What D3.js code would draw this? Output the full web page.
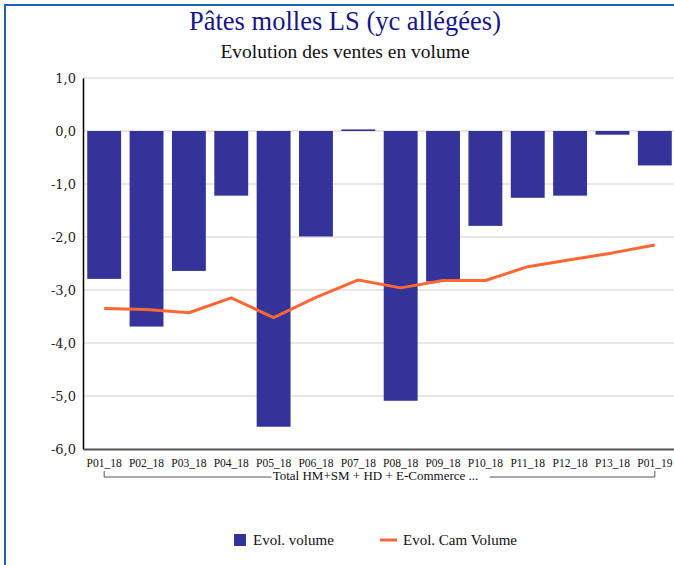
<!DOCTYPE html>
<html>
<head>
<meta charset="utf-8">
<script src="https://cdn.jsdelivr.net/npm/d3@7"></script>
<style>
  body { margin: 0; background: #fff; }
  svg { display: block; }
  .serif { font-family: "Liberation Serif", "Times New Roman", serif; }
  .slab { font-family: "DejaVu Serif", serif; }
</style>
</head>
<body>
<div id="chart"></div>
<script>
// data
var periods = ["P01_18", "P02_18", "P03_18", "P04_18", "P05_18", "P06_18", "P07_18",
               "P08_18", "P09_18", "P10_18", "P11_18", "P12_18", "P13_18", "P01_19"];
var evolVolume = [-2.79, -3.69, -2.64, -1.22, -5.58, -1.99, 0.03,
                  -5.09, -2.84, -1.79, -1.26, -1.22, -0.07, -0.65];
var evolCamVolume = [-3.35, -3.37, -3.43, -3.15, -3.52, -3.14, -2.81,
                     -2.96, -2.82, -2.82, -2.56, -2.43, -2.30, -2.15];
var yTicks = [1, 0, -1, -2, -3, -4, -5, -6];
var groupLabel = "Total HM+SM + HD + E-Commerce ...";
var seriesNames = ["Evol. volume", "Evol. Cam Volume"];

var svgWidth = 674;
var svgHeight = 565;

var margin = { top: 78, right: -2, bottom: 116, left: 83 };
var width = svgWidth - margin.left - margin.right;
var height = svgHeight - margin.top - margin.bottom;

var barColor = "#333399";
var lineColor = "#FF6633";

var svg = d3.select("#chart")
    .append("svg")
    .attr("width", svgWidth)
    .attr("height", svgHeight);

// frame
svg.append("path")
    .attr("d", "M5,565 V5 H674")
    .attr("fill", "none")
    .attr("stroke", "#1F63B5")
    .attr("stroke-width", 2);

// titles
svg.append("text")
    .attr("class", "serif")
    .attr("x", 345)
    .attr("y", 30)
    .attr("text-anchor", "middle")
    .style("font-size", "26.5px")
    .attr("fill", "#16168A")
    .text("Pâtes molles LS (yc allégées)");

svg.append("text")
    .attr("class", "serif")
    .attr("x", 345)
    .attr("y", 58)
    .attr("text-anchor", "middle")
    .style("font-size", "19.5px")
    .attr("fill", "#111")
    .text("Evolution des ventes en volume");

var chartGroup = svg.append("g")
    .attr("transform", `translate(${margin.left}, ${margin.top})`);

// scales
var xBandScale = d3.scaleBand()
    .domain(periods)
    .range([0, width])
    .paddingInner(0.2)
    .paddingOuter(0.1);

var yLinearScale = d3.scaleLinear()
    .domain([-6, 1])
    .range([height, 0]);

// gridlines
chartGroup.append("g")
    .selectAll("line")
    .data(yTicks.filter(d => d > -6))
    .enter()
    .append("line")
    .attr("x1", 0)
    .attr("x2", width)
    .attr("y1", d => yLinearScale(d))
    .attr("y2", d => yLinearScale(d))
    .attr("stroke", "#CFCFCF")
    .attr("stroke-width", 1);

// bars
chartGroup.selectAll(".bar")
    .data(evolVolume)
    .enter()
    .append("rect")
    .attr("class", "bar")
    .attr("x", (d, i) => xBandScale(periods[i]))
    .attr("width", xBandScale.bandwidth())
    .attr("y", d => yLinearScale(Math.max(0, d)))
    .attr("height", d => Math.max(1.5, Math.abs(yLinearScale(d) - yLinearScale(0))))
    .attr("fill", barColor);

// line
var line = d3.line()
    .x((d, i) => xBandScale(periods[i]) + xBandScale.bandwidth() / 2)
    .y(d => yLinearScale(d));

chartGroup.append("path")
    .datum(evolCamVolume)
    .attr("d", line)
    .attr("fill", "none")
    .attr("stroke", lineColor)
    .attr("stroke-width", 3)
    .attr("stroke-linejoin", "round");

// axes
var leftAxis = d3.axisLeft(yLinearScale)
    .tickValues(yTicks)
    .tickSize(0)
    .tickPadding(7)
    .tickFormat(d => d3.format(".1f")(d).replace(".", ",").replace("\u2212", "-"));

var yAxis = chartGroup.append("g")
    .call(leftAxis)
    .attr("font-family", null)
    .attr("font-size", null);
yAxis.select(".domain").attr("stroke", "#000").attr("stroke-width", 1.5);
yAxis.selectAll("text")
    .attr("class", "slab")
    .style("font-size", "13px")
    .attr("fill", "#222");

var bottomAxis = d3.axisBottom(xBandScale)
    .tickSize(0)
    .tickPadding(10);

var xAxis = chartGroup.append("g")
    .attr("transform", `translate(0, ${height})`)
    .call(bottomAxis)
    .attr("font-family", null)
    .attr("font-size", null);
xAxis.select(".domain").attr("stroke", "#555").attr("stroke-width", 2);
xAxis.selectAll("text")
    .attr("class", "serif")
    .style("font-size", "11.5px")
    .attr("fill", "#111");

// group bracket
var bx0 = xBandScale(periods[0]) + xBandScale.bandwidth() / 2;
var bx1 = xBandScale(periods[periods.length - 1]) + xBandScale.bandwidth() / 2;
var bxm = (bx0 + bx1) / 2;
var by = height + 28;
var bracket = chartGroup.append("g");
bracket.append("path")
    .attr("d", `M${bx0},${by - 6} V${by} H${bxm - 108} M${bxm + 110},${by} H${bx1} V${by - 6}`)
    .attr("fill", "none")
    .attr("stroke", "#555")
    .attr("stroke-width", 1);
bracket.append("text")
    .attr("class", "serif")
    .attr("x", bxm - 4)
    .attr("y", by + 3)
    .attr("text-anchor", "middle")
    .style("font-size", "13px")
    .attr("fill", "#111")
    .text(groupLabel);

// legend
var legend = svg.append("g");
legend.append("rect")
    .attr("x", 234).attr("y", 534)
    .attr("width", 12).attr("height", 12)
    .attr("fill", barColor);
legend.append("text")
    .attr("class", "serif")
    .attr("x", 253).attr("y", 545)
    .style("font-size", "15px")
    .attr("fill", "#111")
    .text(seriesNames[0]);
legend.append("line")
    .attr("x1", 380).attr("x2", 397)
    .attr("y1", 540).attr("y2", 540)
    .attr("stroke", lineColor)
    .attr("stroke-width", 3);
legend.append("text")
    .attr("class", "serif")
    .attr("x", 403).attr("y", 545)
    .style("font-size", "15px")
    .attr("fill", "#111")
    .text(seriesNames[1]);
</script>
</body>
</html>
